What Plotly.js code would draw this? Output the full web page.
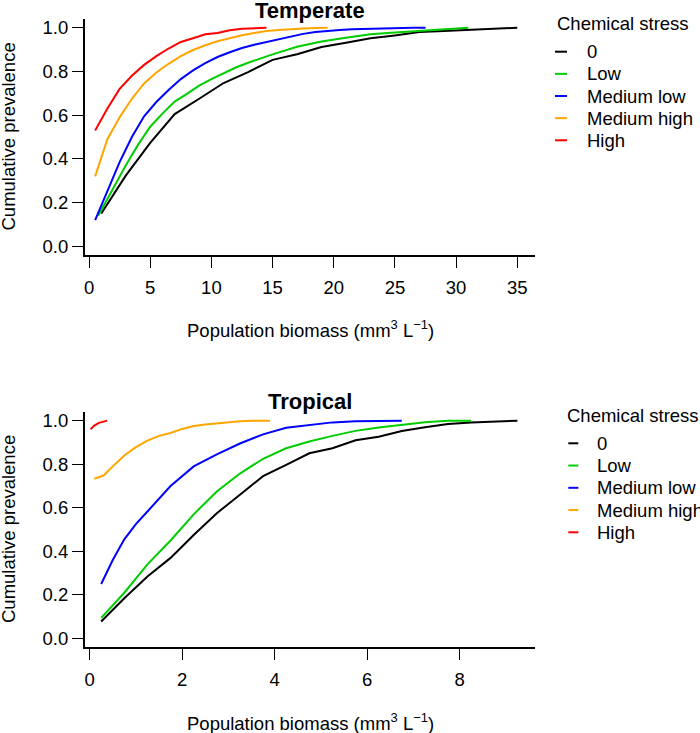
<!DOCTYPE html>
<html>
<head>
<meta charset="utf-8">
<script src="https://cdn.plot.ly/plotly-3.0.1.min.js"></script>
<style>html,body{margin:0;padding:0;background:#fff;}#chart{width:700px;height:733px;}</style>
</head>
<body>
<div id="chart"></div>
<script>
// ---- Data ----
const stressLevels = ["0", "Low", "Medium low", "Medium high", "High"];
const stressColors = ["#000000", "#00CD00", "#0000FF", "#FFA500", "#FF0000"];

// Temperate
const tempX0 = [1,3,5,7,9,11,13,15,17,19,21,23,25,27,29,31,33,35];
const tempY0 = [0.15,0.323,0.473,0.605,0.675,0.747,0.797,0.853,0.879,0.912,0.931,0.952,0.965,0.98,0.985,0.99,0.995,1.0];
const tempXLow = [0.75,2,3,4,5,6,7,8,9,10,11,12,13,14,15,17,19,21,23,25,27,29,31];
const tempYLow = [0.14,0.27,0.37,0.464,0.547,0.607,0.662,0.697,0.735,0.765,0.793,0.818,0.84,0.86,0.878,0.913,0.937,0.954,0.97,0.978,0.986,0.993,1.0];
const tempXMedLow = [0.5,1.5,2.5,3.5,4.5,5.5,6.5,7.5,8.5,9.5,10.5,11.5,12.5,13.5,14.5,15.5,16.5,17.5,18.5,19.5,20.5,21.5,22.5,23.5,24.5,25.5,26.5,27.5];
const tempYMedLow = [0.12,0.25,0.385,0.5,0.595,0.66,0.715,0.765,0.805,0.838,0.866,0.888,0.907,0.922,0.935,0.948,0.961,0.972,0.98,0.986,0.99,0.993,0.995,0.997,0.998,0.999,1.0,1.0];
const tempXMedHigh = [0.5,1.5,2.5,3.5,4.5,5.5,6.5,7.5,8.5,9.5,10.5,11.5,12.5,13.5,14.5,15.5,16.5,17.5,18.5,19.5];
const tempYMedHigh = [0.32,0.49,0.59,0.675,0.745,0.795,0.835,0.87,0.898,0.92,0.938,0.953,0.966,0.976,0.985,0.99,0.995,0.997,0.999,1.0];
const tempXHigh = [0.5,1.5,2.5,3.5,4.5,5.5,6.5,7.5,8.5,9.5,10.5,11.5,12.5,13.5,14.5];
const tempYHigh = [0.53,0.63,0.72,0.78,0.83,0.87,0.905,0.935,0.952,0.97,0.976,0.988,0.995,0.998,1.0];

// Tropical
const tropX0 = [0.25,0.75,1.25,1.75,2.25,2.75,3.25,3.75,4.25,4.75,5.25,5.75,6.25,6.75,7.25,7.75,8.25,8.75,9.25];
const tropY0 = [0.078,0.185,0.285,0.37,0.475,0.575,0.66,0.745,0.797,0.85,0.873,0.91,0.926,0.952,0.97,0.985,0.992,0.996,1.0];
const tropXLow = [0.25,0.75,1.25,1.75,2.25,2.75,3.25,3.75,4.25,4.75,5.25,5.75,6.25,6.75,7.25,7.75,8.25];
const tropYLow = [0.095,0.21,0.34,0.45,0.57,0.675,0.757,0.825,0.873,0.904,0.93,0.953,0.968,0.982,0.993,0.999,1.0];
const tropXMedLow = [0.25,0.5,0.75,1.0,1.25,1.75,2.25,2.75,3.25,3.75,4.25,4.75,5.25,5.75,6.25,6.75];
const tropYMedLow = [0.25,0.36,0.455,0.525,0.583,0.70,0.79,0.845,0.895,0.937,0.967,0.98,0.992,0.997,0.999,1.0];
const tropXMedHigh = [0.1,0.3,0.5,0.75,1.0,1.25,1.5,1.75,2.0,2.25,2.5,2.75,3.0,3.25,3.5,3.9];
const tropYMedHigh = [0.733,0.748,0.79,0.84,0.878,0.908,0.93,0.943,0.962,0.975,0.982,0.988,0.993,0.997,0.999,1.0];
const tropXHigh = [0.02,0.1,0.2,0.3,0.38];
const tropYHigh = [0.96,0.977,0.99,0.997,1.0];

const yTicks = [0, 0.2, 0.4, 0.6, 0.8, 1.0];
const xTicksTemp = [0, 5, 10, 15, 20, 25, 30, 35];
const xTicksTrop = [0, 2, 4, 6, 8];
const panelTitles = ["Temperate", "Tropical"];
const xTitle = "Population biomass (mm<sup>3</sup> L<sup>\u22121</sup>)";
const yTitle = "Cumulative prevalence";
const legendTitle = "Chemical stress";

// ---- Layout helpers ----
const W = 700, H = 733;
const M = {l: 85, r: 165, t: 19, b: 86};
const PW = W - M.l - M.r, PH = H - M.t - M.b;
const px2x = px => (px - M.l) / PW;
const py2y = py => (H - M.b - py) / PH;

const FONT = "Liberation Sans, Arial, Helvetica, sans-serif";
const FS = 18.5;

const tempSeries = [[tempX0,tempY0],[tempXLow,tempYLow],[tempXMedLow,tempYMedLow],[tempXMedHigh,tempYMedHigh],[tempXHigh,tempYHigh]];
const tropSeries = [[tropX0,tropY0],[tropXLow,tropYLow],[tropXMedLow,tropYMedLow],[tropXMedHigh,tropYMedHigh],[tropXHigh,tropYHigh]];

const traces = [];
tempSeries.forEach((s, i) => traces.push({
  x: s[0], y: s[1], type: "scatter", mode: "lines", name: stressLevels[i],
  line: {color: stressColors[i], width: 2}, xaxis: "x", yaxis: "y", showlegend: false, hoverinfo: "x+y"
}));
tropSeries.forEach((s, i) => traces.push({
  x: s[0], y: s[1], type: "scatter", mode: "lines", name: stressLevels[i],
  line: {color: stressColors[i], width: 2}, xaxis: "x2", yaxis: "y2", showlegend: false, hoverinfo: "x+y"
}));

function axisCommon() {
  return {
    showgrid: false, zeroline: false, showline: true, linecolor: "#000", linewidth: 2,
    ticks: "outside", ticklen: 11, tickwidth: 1, tickcolor: "#000",
    tickfont: {family: FONT, size: FS, color: "#000"}, fixedrange: true
  };
}

const layout = {
  width: W, height: H, margin: M, paper_bgcolor: "#fff", plot_bgcolor: "#fff",
  showlegend: false, font: {family: FONT, size: FS, color: "#000"},
  xaxis: Object.assign(axisCommon(), {anchor: "y", domain: [0, 1], range: [-0.33, 36.45], tickvals: xTicksTemp, ticktext: xTicksTemp.map(String), ticklabelstandoff: 4}),
  yaxis: Object.assign(axisCommon(), {anchor: "x", domain: [py2y(255), 1], range: [-0.04, 1.04], tickvals: yTicks, ticktext: yTicks.map(v => v.toFixed(1)), ticklabelstandoff: 0}),
  xaxis2: Object.assign(axisCommon(), {anchor: "y2", domain: [0, 1], range: [-0.1, 9.63], tickvals: xTicksTrop, ticktext: xTicksTrop.map(String), ticklabelstandoff: 4}),
  yaxis2: Object.assign(axisCommon(), {anchor: "x2", domain: [0, py2y(411.7)], range: [-0.039, 1.041], tickvals: yTicks, ticktext: yTicks.map(v => v.toFixed(1)), ticklabelstandoff: 0}),
  annotations: [], shapes: []
};

// Panel titles
[[10.5, 0], [401.7, 1]].forEach(([py, i]) => layout.annotations.push({
  xref: "paper", yref: "paper", x: px2x(310), y: py2y(py), xanchor: "center", yanchor: "middle",
  text: "<b>" + panelTitles[i] + "</b>", showarrow: false, font: {family: FONT, size: 22, color: "#000"}
}));
// Axis titles
[329.4, 721.7].forEach(py => layout.annotations.push({
  xref: "paper", yref: "paper", x: px2x(310), y: py2y(py), xanchor: "center", yanchor: "middle",
  text: xTitle, showarrow: false, font: {family: FONT, size: FS, color: "#000"}
}));
[137, 529.5].forEach(py => layout.annotations.push({
  xref: "paper", yref: "paper", x: px2x(8.5), y: py2y(py), xanchor: "center", yanchor: "middle",
  text: yTitle, textangle: -90, showarrow: false, font: {family: FONT, size: FS, color: "#000"}
}));

// Legends (manual, one per panel)
const legends = [
  {titleX: 555, titleY: 23, lineX0: 555, lineX1: 567, textX: 585, itemY0: 51.7, step: 22.15},
  {titleX: 565, titleY: 415, lineX0: 568.3, lineX1: 578.3, textX: 595, itemY0: 443.3, step: 22.25}
];
legends.forEach(L => {
  layout.annotations.push({
    xref: "paper", yref: "paper", x: px2x(L.titleX), y: py2y(L.titleY), xanchor: "left", yanchor: "middle",
    text: legendTitle, showarrow: false, font: {family: FONT, size: FS, color: "#000"}
  });
  stressLevels.forEach((lab, i) => {
    const cy = L.itemY0 + i * L.step;
    layout.shapes.push({
      type: "line", xref: "paper", yref: "paper", x0: px2x(L.lineX0), x1: px2x(L.lineX1), y0: py2y(cy), y1: py2y(cy),
      line: {color: stressColors[i], width: 2}
    });
    layout.annotations.push({
      xref: "paper", yref: "paper", x: px2x(L.textX), y: py2y(cy), xanchor: "left", yanchor: "middle",
      text: lab, showarrow: false, font: {family: FONT, size: FS, color: "#000"}
    });
  });
});

Plotly.newPlot("chart", traces, layout, {displayModeBar: false, staticPlot: true});
</script>
</body>
</html>
